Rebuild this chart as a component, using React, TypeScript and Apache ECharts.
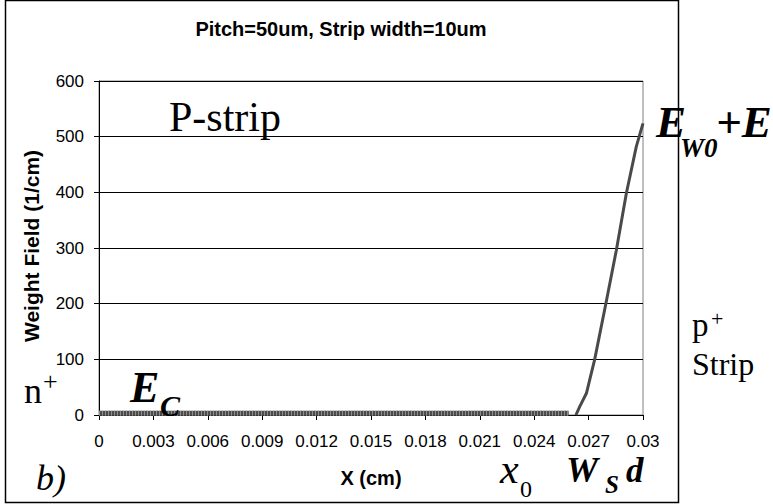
import React, { useEffect, useRef } from "react";
import * as echarts from "echarts";

// ---- data ----
const titleText = "Pitch=50um, Strip width=10um";
const xAxisName = "X (cm)";
const yAxisName = "Weight Field (1/cm)";
const xMin = 0;
const xMax = 0.03;
const xStep = 0.003;
const yMin = 0;
const yMax = 600;
const yStep = 100;

// flat part of the weighting field (hatched thick line)
const flatX = [0, 0.0259];
const flatY = [3, 3];
// rising part near the p+ strip
const riseX = [0.0263, 0.02651, 0.02688, 0.02706, 0.02733, 0.02794, 0.02853, 0.02908, 0.02963, 0.03];
const riseY = [0, 15, 39, 63, 99, 198, 296, 398, 482, 524];

const SANS = '"Liberation Sans", Arial, sans-serif';
const SERIF = '"Liberation Serif", "Times New Roman", serif';

function t(
  text: string,
  x: number,
  y: number,
  size: number,
  weight: string = "normal",
  style: string = "normal",
  family: string = SERIF,
  align: string = "left"
) {
  return {
    type: "text",
    x,
    y,
    z: 50,
    silent: true,
    style: {
      text,
      fontSize: size,
      fontFamily: family,
      fontWeight: weight,
      fontStyle: style,
      fill: "#000",
      align,
      verticalAlign: "middle",
    },
  };
}

export default function App() {
  const ref = useRef<HTMLDivElement>(null);
  useEffect(() => {
    if (!ref.current) return;
    const chart = echarts.init(ref.current, null, { renderer: "svg" });
    const flat = flatX.map((x, i) => [x, flatY[i]]);
    const rise = riseX.map((x, i) => [x, riseY[i]]);
    chart.setOption({
      animation: false,
      backgroundColor: "#fff",
      grid: {
        left: 99,
        right: 130,
        top: 81,
        bottom: 89,
        show: true,
        borderColor: "#808080",
        borderWidth: 1,
        backgroundColor: "transparent",
      },
      xAxis: {
        type: "value",
        min: xMin,
        max: xMax,
        interval: xStep,
        axisLine: { show: true, onZero: false, lineStyle: { color: "#000", width: 1 } },
        axisTick: { show: true, inside: false, length: 5, lineStyle: { color: "#000" } },
        splitLine: { show: false },
        axisLabel: {
          color: "#000",
          fontSize: 17,
          fontFamily: SANS,
          margin: 18,
          formatter: (v: number) => String(+v.toFixed(3)),
        },
      },
      yAxis: {
        type: "value",
        min: yMin,
        max: yMax,
        interval: yStep,
        axisLine: { show: true, onZero: false, lineStyle: { color: "#000", width: 1 } },
        axisTick: { show: true, inside: false, length: 5, lineStyle: { color: "#000" } },
        splitLine: { show: true, lineStyle: { color: "#000", width: 1 } },
        axisLabel: { color: "#000", fontSize: 17, fontFamily: SANS, margin: 15 },
      },
      series: [
        {
          type: "line",
          data: flat,
          showSymbol: false,
          lineStyle: { color: "#4d4d4d", width: 5 },
          silent: true,
        },
        {
          type: "line",
          data: flat,
          showSymbol: false,
          lineStyle: { color: "#8c8c8c", width: 5, type: [1, 2] },
          silent: true,
        },
        {
          type: "line",
          data: rise,
          showSymbol: false,
          lineStyle: { color: "#4a4a4a", width: 3 },
          silent: true,
        },
      ],
      graphic: [
        t(titleText, 341, 29, 20, "bold", "normal", SANS, "center"),
        {
          type: "text",
          x: 31,
          y: 246,
          rotation: Math.PI / 2,
          silent: true,
          style: {
            text: yAxisName,
            fontSize: 21,
            fontFamily: SANS,
            fontWeight: "bold",
            fill: "#000",
            align: "center",
            verticalAlign: "middle",
          },
        },
        t(xAxisName, 371, 478, 20, "bold", "normal", SANS, "center"),
        t("P-strip", 169, 117, 42),
        t("E", 656, 122, 45, "bold", "italic"),
        t("W0", 680, 148, 27, "bold", "italic"),
        t("+E", 716, 122, 45, "bold", "italic"),
        t("n", 24, 391, 36),
        t("+", 43, 381, 26),
        t("E", 130, 387, 44, "bold", "italic"),
        t("C", 160, 405, 30, "bold", "italic"),
        t("p", 692, 325, 33),
        t("+", 711, 318, 22),
        t("Strip", 692, 364, 32),
        t("b)", 36, 478, 36, "normal", "italic"),
        t("x", 500, 469, 42, "normal", "italic"),
        t("0", 520, 489, 24),
        t("W", 566, 470, 36, "bold", "italic"),
        t("S", 605, 484, 25, "bold", "italic"),
        t("d", 626, 470, 35, "bold", "italic"),
        {
          type: "rect",
          silent: true,
          shape: { x: 5.5, y: 0.5, width: 673, height: 502 },
          style: { fill: "none", stroke: "#000", lineWidth: 1.5 },
          z: 100,
        },
      ],
    });
    return () => chart.dispose();
  }, []);
  return (
    <div
      ref={ref}
      style={{ position: "fixed", left: 0, top: 0, width: 773, height: 504, background: "#fff" }}
    />
  );
}
